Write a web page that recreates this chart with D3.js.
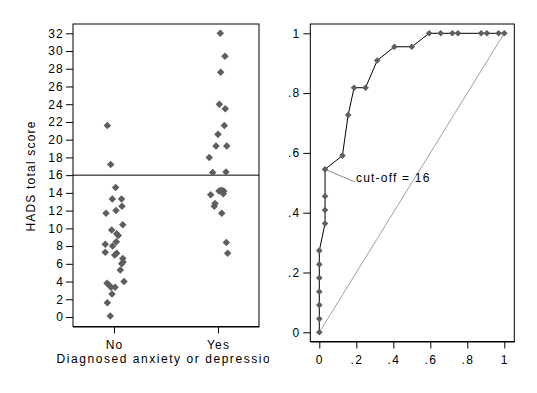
<!DOCTYPE html>
<html>
<head>
<meta charset="utf-8">
<script src="https://cdn.jsdelivr.net/npm/d3@7"></script>
<style>
  body { margin: 0; background: #fff; }
  text { font-family: "Liberation Sans", Arial, sans-serif; font-size: 12px; letter-spacing: 1.2px; fill: #000; }
</style>
</head>
<body>
<script>
// Left panel: HADS scores with horizontal jitter (category units)
const groups = ["No", "Yes"]
const noScores = [21.6, 17.2, 14.6, 13.3, 13.3, 12.5, 12.0, 11.7, 10.4, 9.8, 9.4, 9.2, 8.5, 8.2, 8.0,
  7.3, 7.2, 7.0, 6.6, 6.2, 6.0, 5.3, 4.0, 3.8, 3.6, 3.35, 3.35, 2.6, 1.6, 0.1]
const noJitter = [-0.064, -0.032, 0.016, -0.016, 0.072, 0.077, 0.019, -0.077, 0.084, -0.022, 0.026, 0.041, 0.022, -0.084, -0.013,
  -0.084, 0.026, 0.007, 0.084, 0.087, 0.074, 0.061, 0.096, -0.067, -0.048, -0.029, 0.01, -0.019, -0.064, -0.036]
const yesScores = [32.0, 29.4, 27.6, 24.0, 23.5, 21.6, 20.6, 19.3, 19.3, 18.0, 16.3, 16.35, 14.2, 14.3, 14.2,
  13.9, 13.8, 12.8, 12.5, 11.7, 8.4, 7.2]
const yesJitter = [0.022, 0.067, 0.026, 0.013, 0.07, 0.061, 0, -0.019, 0.084, -0.084, -0.051, 0.077, 0.01, 0.032, 0.055,
  0.051, -0.07, -0.029, -0.036, 0.036, 0.08, 0.093]
const cutOff = 16
const scoreTicks = d3.range(0, 33, 2)

// Right panel: ROC curve
const fpr = [0, 0, 0, 0, 0, 0, 0, 0.031, 0.031, 0.031, 0.031, 0.125, 0.156, 0.188, 0.25, 0.313, 0.406, 0.5,
  0.594, 0.656, 0.719, 0.75, 0.875, 0.906, 0.969, 1]
const sens = [0, 0.045, 0.091, 0.136, 0.182, 0.227, 0.273, 0.364, 0.409, 0.455, 0.545, 0.591, 0.727, 0.818, 0.818,
  0.909, 0.955, 0.955, 1, 1, 1, 1, 1, 1, 1, 1]
const rocTicks = [0, 0.2, 0.4, 0.6, 0.8, 1]
const cutIndex = 10
const cutLabel = "cut-off = 16"

const W = 537, H = 393
const MARK = "#5e5e5e"

const svg = d3.select("body").append("svg").attr("width", W).attr("height", H)

const diamond = d3.symbol().type(d3.symbolDiamond2)

//// Left panel ////
const L = { x0: 73, x1: 259, y0: 24, y1: 326.5 }
const xL = d3.scaleLinear().domain([0, 1]).range([114, 218])
const yL = d3.scaleLinear().domain([0, 32]).range([317, 33.3])

svg.append("clipPath").attr("id", "clipL")
  .append("rect").attr("x", 0).attr("y", 0).attr("width", 269).attr("height", H)

const gL = svg.append("g")

gL.append("rect")
  .attr("x", L.x0).attr("y", L.y0)
  .attr("width", L.x1 - L.x0).attr("height", L.y1 - L.y0)
  .attr("fill", "none").attr("stroke", "#000")

gL.append("line")
  .attr("x1", L.x0).attr("x2", L.x1)
  .attr("y1", yL(cutOff)).attr("y2", yL(cutOff))
  .attr("stroke", "#000")

const yAxisL = gL.append("g")
  .attr("transform", `translate(${L.x0},0)`)
  .call(d3.axisLeft(yL).tickValues(scoreTicks).tickSize(7).tickPadding(2))
yAxisL.select(".domain").remove()

const xAxisL = gL.append("g")
  .attr("transform", `translate(0,${L.y1})`)
  .call(d3.axisBottom(xL).tickValues([0, 1]).tickFormat(d => groups[d]).tickSize(7).tickPadding(7))
xAxisL.select(".domain").remove()

gL.append("line")
  .attr("x1", L.x0).attr("x2", L.x1 + 0.5)
  .attr("y1", L.y1 + 0.5).attr("y2", L.y1 + 0.5)
  .attr("stroke", "#000")

gL.append("g").attr("clip-path", "url(#clipL)")
  .append("text")
  .attr("x", 168).attr("y", 363)
  .attr("text-anchor", "middle")
  .style("letter-spacing", "1.55px")
  .text("Diagnosed anxiety or depression")

gL.append("text")
  .attr("transform", `translate(35,176) rotate(-90)`)
  .attr("text-anchor", "middle")
  .text("HADS total score")

const ptsL = noScores.map((s, i) => ({ g: 0, j: noJitter[i], s }))
  .concat(yesScores.map((s, i) => ({ g: 1, j: yesJitter[i], s })))

gL.selectAll("path.pt").data(ptsL).join("path")
  .attr("class", "pt")
  .attr("d", diamond.size(36))
  .attr("transform", d => `translate(${xL(d.g + d.j)},${yL(d.s)})`)
  .attr("fill", MARK)

//// Right panel ////
const R = { x0: 310.3, x1: 514.3, y0: 24, y1: 341.5 }
const xR = d3.scaleLinear().domain([0, 1]).range([319.3, 504.3])
const yR = d3.scaleLinear().domain([0, 1]).range([332.3, 33.3])
const fmt = d => d === 0 ? "0" : d === 1 ? "1" : d3.format(".1f")(d).replace(/^0/, "")

const gR = svg.append("g")

gR.append("rect")
  .attr("x", R.x0).attr("y", R.y0)
  .attr("width", R.x1 - R.x0).attr("height", R.y1 - R.y0)
  .attr("fill", "none").attr("stroke", "#000")

gR.append("line")
  .attr("x1", R.x0).attr("x2", R.x1 + 0.5)
  .attr("y1", R.y1 + 0.5).attr("y2", R.y1 + 0.5)
  .attr("stroke", "#000")

const yAxisR = gR.append("g")
  .attr("transform", `translate(${R.x0},0)`)
  .call(d3.axisLeft(yR).tickValues(rocTicks).tickFormat(fmt).tickSize(7).tickPadding(3))
yAxisR.select(".domain").remove()

const xAxisR = gR.append("g")
  .attr("transform", `translate(0,${R.y1})`)
  .call(d3.axisBottom(xR).tickValues(rocTicks).tickFormat(fmt).tickSize(7).tickPadding(7))
xAxisR.select(".domain").remove()

svg.selectAll(".tick text").attr("font-size", 12).attr("font-family", null)

// reference diagonal
gR.append("line")
  .attr("x1", xR(0)).attr("y1", yR(0))
  .attr("x2", xR(1)).attr("y2", yR(1))
  .attr("stroke", "#a0a0a0")

const roc = fpr.map((f, i) => ({ f, s: sens[i] }))

gR.append("path")
  .datum(roc)
  .attr("d", d3.line().x(d => xR(d.f)).y(d => yR(d.s)))
  .attr("fill", "none")
  .attr("stroke", "#000")

// cut-off annotation
const cp = roc[cutIndex]
gR.append("line")
  .attr("x1", xR(cp.f)).attr("y1", yR(cp.s))
  .attr("x2", 355).attr("y2", 182)
  .attr("stroke", "#8a8a8a")
gR.append("text")
  .attr("x", 356).attr("y", 181.5)
  .text(cutLabel)

gR.selectAll("path.pt").data(roc).join("path")
  .attr("class", "pt")
  .attr("d", diamond.size(28))
  .attr("transform", d => `translate(${xR(d.f)},${yR(d.s)})`)
  .attr("fill", MARK)
</script>
</body>
</html>
